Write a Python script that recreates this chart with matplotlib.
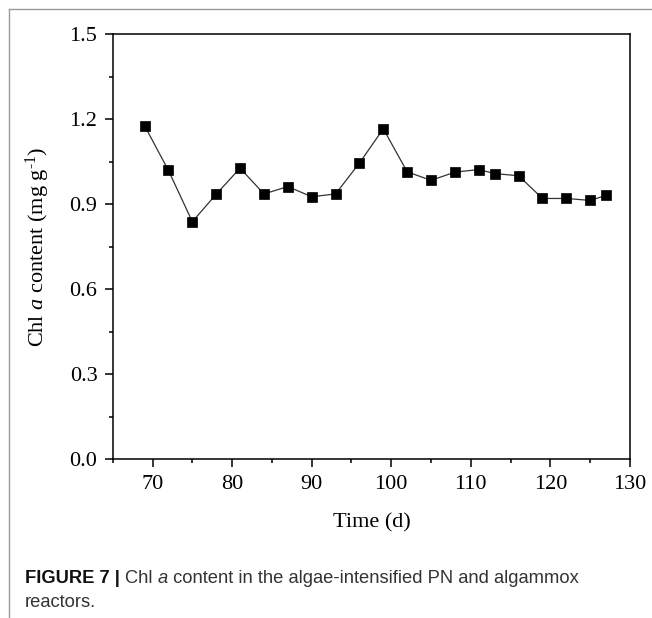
import matplotlib
matplotlib.use("Agg")
import matplotlib.pyplot as plt
from matplotlib.lines import Line2D
from matplotlib.ticker import MultipleLocator

# Sampling days and Chl a content (mg g-1)
days = [69, 72, 75, 78, 81, 84, 87, 90, 93, 96, 99, 102, 105, 108, 111,
        113, 116, 119, 122, 125, 127]
chl_a = [1.178, 1.020, 0.839, 0.936, 1.028, 0.937, 0.963, 0.927, 0.937,
         1.046, 1.167, 1.015, 0.985, 1.014, 1.023, 1.009, 1.001, 0.921,
         0.921, 0.914, 0.932]

x_ticks = [70, 80, 90, 100, 110, 120, 130]
y_ticks = [0.0, 0.3, 0.6, 0.9, 1.2, 1.5]

plt.rcParams["font.family"] = ["Liberation Serif", "DejaVu Serif"]
plt.rcParams["mathtext.fontset"] = "custom"
plt.rcParams["mathtext.rm"] = "Liberation Serif"
plt.rcParams["mathtext.it"] = "Liberation Serif:italic"

fig = plt.figure(figsize=(6.52, 6.18), dpi=100)
ax = fig.add_axes([0.1729, 0.2568, 0.7934, 0.6874])

ax.plot(days, chl_a, color="#333333", linewidth=0.9, marker="s",
        markersize=6.5, markerfacecolor="black", markeredgecolor="black",
        markeredgewidth=0.5)

ax.set_xlim(65, 130)
ax.set_ylim(0, 1.5)
ax.set_xticks(x_ticks)
ax.set_yticks(y_ticks)
ax.set_yticklabels([f"{v:.1f}" for v in y_ticks])
ax.xaxis.set_minor_locator(MultipleLocator(5))
ax.yaxis.set_minor_locator(MultipleLocator(0.15))

for s in ax.spines.values():
    s.set_linewidth(1.1)
ax.tick_params(which="both", direction="out", width=1.1, labelsize=16,
               top=False, right=False)
ax.tick_params(which="major", length=6, pad=5)
ax.tick_params(which="minor", length=3)

ax.set_xlabel("Time (d)", fontsize=16, labelpad=14)
ax.set_ylabel(r"Chl $a$ content (mg g$^{\rm \text{-}1}$)", fontsize=16,
              labelpad=13)

# Page frame lines (left and top)
fig.add_artist(Line2D([9 / 652, 9 / 652], [0, 1 - 8.5 / 618],
                      transform=fig.transFigure, color="#999999", lw=1))
fig.add_artist(Line2D([9 / 652, 1], [1 - 8.5 / 618, 1 - 8.5 / 618],
                      transform=fig.transFigure, color="#999999", lw=1))

# Caption built from pieces placed one after another
renderer = fig.canvas.get_renderer()
cap_size = 13.2
parts = [("FIGURE 7 | ", "bold", "normal", "#111111"),
         ("Chl ", "normal", "normal", "#333333"),
         ("a", "normal", "italic", "#333333"),
         (" content in the algae-intensified PN and algammox", "normal",
          "normal", "#333333")]
x = 25 / 652
y1 = 1 - 583 / 618
for txt, weight, style, col in parts:
    t = fig.text(x, y1, txt, fontsize=cap_size, family="Liberation Sans",
                 weight=weight, style=style, color=col, va="baseline")
    bb = t.get_window_extent(renderer)
    x += bb.width / fig.bbox.width
fig.text(25 / 652, 1 - 607 / 618, "reactors.", fontsize=cap_size,
         family="Liberation Sans", color="#333333", va="baseline")

fig.savefig("out.png", dpi=100)
